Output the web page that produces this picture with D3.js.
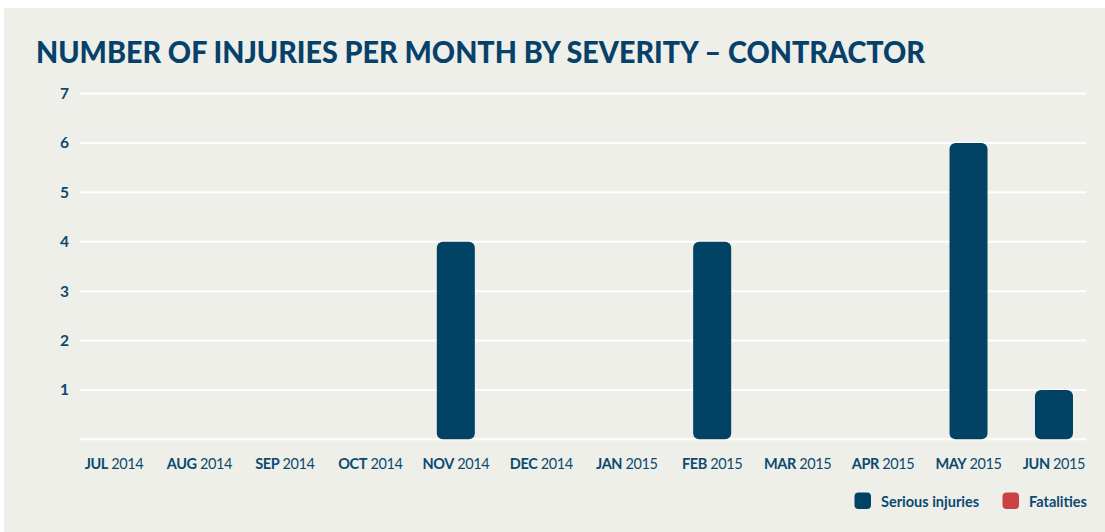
<!DOCTYPE html>
<html>
<head>
<meta charset="utf-8">
<script src="https://cdn.jsdelivr.net/npm/d3@7"></script>
<style>
  html, body { margin: 0; padding: 0; background: #ffffff; }
  svg { display: block; }
  text { font-family: Lato, "Open Sans", sans-serif; }
</style>
</head>
<body>
<svg id="chart" width="1105" height="532"></svg>
<script>
const months = ["JUL", "AUG", "SEP", "OCT", "NOV", "DEC", "JAN", "FEB", "MAR", "APR", "MAY", "JUN"];
const years = ["2014", "2014", "2014", "2014", "2014", "2014", "2015", "2015", "2015", "2015", "2015", "2015"];
const seriousInjuries = [0, 0, 0, 0, 4, 0, 0, 4, 0, 0, 6, 1];
const fatalities = [0, 0, 0, 0, 0, 0, 0, 0, 0, 0, 0, 0];
const yTicks = [1, 2, 3, 4, 5, 6, 7];
const seriesNames = ["Serious injuries", "Fatalities"];
const title = "NUMBER OF INJURIES PER MONTH BY SEVERITY – CONTRACTOR";

const navy = "#014265";
const red = "#cb4243";
const bg = "#efefea";
const textCol = "#0b4a6f";

const svg = d3.select("#chart");
svg.append("rect").attr("x", 4).attr("y", 8).attr("width", 1101).attr("height", 524).attr("fill", bg);

svg.append("text")
  .attr("x", 36).attr("y", 63)
  .attr("fill", "#06416a")
  .attr("font-weight", 900)
  .attr("font-size", 31)
  .attr("textLength", 889)
  .attr("lengthAdjust", "spacingAndGlyphs")
  .text(title);

const x = d3.scaleBand()
  .domain(months.map((m, i) => m + " " + years[i]))
  .range([71.3, 1096.7])
  .paddingInner(0.555)
  .paddingOuter(0.2775);

const y = d3.scaleLinear().domain([0, 7]).range([439.3, 93.6]);

// gridlines
const grid = svg.append("g");
grid.selectAll("line").data([0].concat(yTicks)).join("line")
  .attr("x1", 80).attr("x2", 1086)
  .attr("y1", d => y(d)).attr("y2", d => y(d))
  .attr("stroke", "#ffffff").attr("stroke-width", 2);

// y axis labels
const yAxis = d3.axisLeft(y).tickValues(yTicks).tickFormat(d3.format("d")).tickSize(0).tickPadding(0);
const yg = svg.append("g").attr("transform", "translate(69,0)").call(yAxis);
yg.select(".domain").remove();
yg.selectAll("text")
  .attr("fill", textCol).attr("font-size", 15.5).attr("font-weight", 700)
  .attr("font-family", "Lato, sans-serif")
  .attr("text-anchor", "end").attr("dx", "0").attr("dy", "0.32em");

// x labels
const xg = svg.append("g");
const labels = xg.selectAll("text").data(months).join("text")
  .attr("x", (d, i) => x(d + " " + years[i]) + x.bandwidth() / 2)
  .attr("y", 469)
  .attr("text-anchor", "middle")
  .attr("fill", textCol)
  .attr("font-size", 14.5)
  .attr("letter-spacing", -0.4);
labels.append("tspan").attr("font-weight", 700).text(d => d);
labels.append("tspan").attr("font-weight", 400).text((d, i) => " " + years[i]);

// bars
svg.append("g").selectAll("rect").data(seriousInjuries.map((v, i) => ({v, k: months[i] + " " + years[i]})).filter(d => d.v > 0))
  .join("rect")
  .attr("x", d => x(d.k))
  .attr("width", x.bandwidth())
  .attr("y", d => y(d.v))
  .attr("height", d => y(0) - y(d.v))
  .attr("rx", 6).attr("ry", 6)
  .attr("fill", navy);

svg.append("g").selectAll("rect").data(fatalities.map((v, i) => ({v, k: months[i] + " " + years[i]})).filter(d => d.v > 0))
  .join("rect")
  .attr("x", d => x(d.k))
  .attr("width", x.bandwidth())
  .attr("y", d => y(d.v))
  .attr("height", d => y(0) - y(d.v))
  .attr("rx", 6).attr("ry", 6)
  .attr("fill", red);

// legend
const legendX = [854.5, 1002.5];
const leg = svg.append("g").selectAll("g").data(seriesNames).join("g")
  .attr("transform", (d, i) => `translate(${legendX[i]},492.5)`);
leg.append("rect").attr("width", 16.5).attr("height", 16.5).attr("rx", 4)
  .attr("fill", (d, i) => i === 0 ? navy : red);
leg.append("text").attr("x", 26.5).attr("y", 14)
  .attr("fill", textCol).attr("font-weight", 700).attr("font-size", 14.5)
  .text(d => d);
</script>
</body>
</html>
